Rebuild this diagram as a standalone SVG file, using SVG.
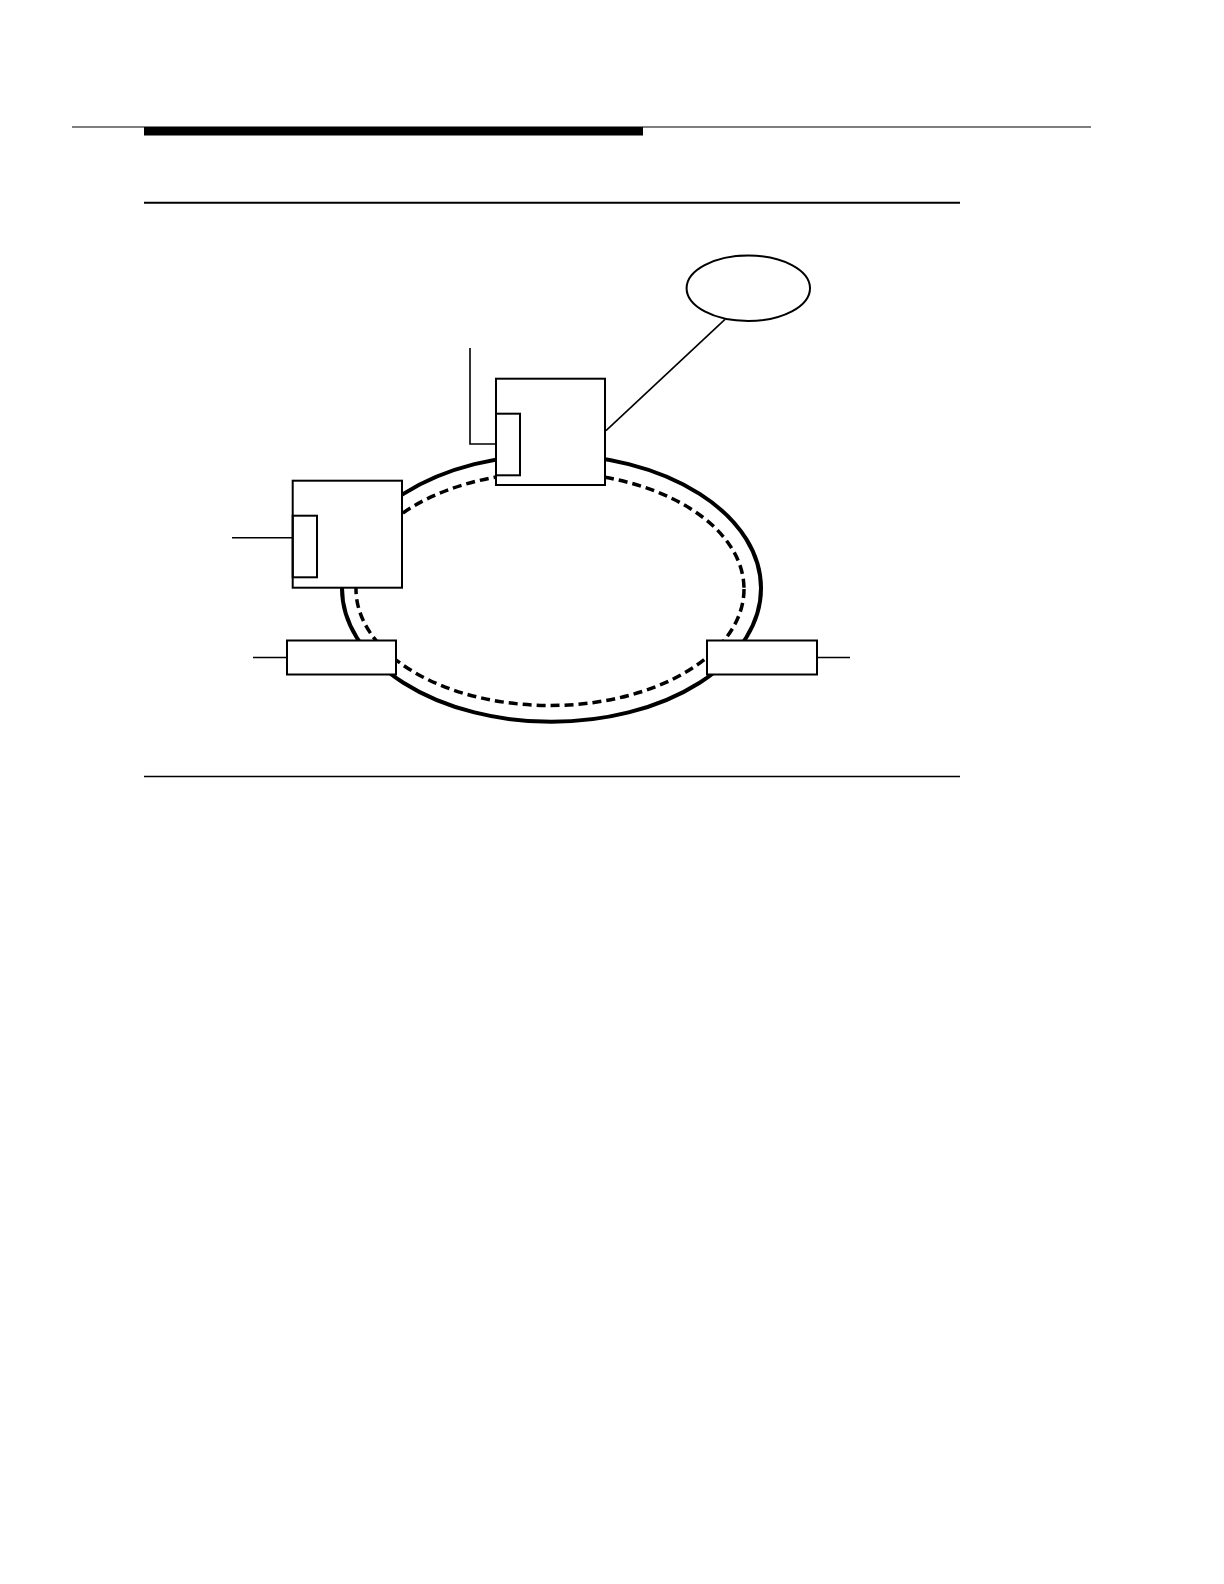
<svg xmlns="http://www.w3.org/2000/svg" width="1224" height="1584" viewBox="0 0 1224 1584">
<style>
.box{fill:#fff;stroke:#000;stroke-width:2}
.inner{fill:none;stroke:#000;stroke-width:2}
.ln{fill:none;stroke:#000;stroke-width:1.6}
.ring{fill:none;stroke:#000;stroke-width:4}
.dash{fill:none;stroke:#000;stroke-width:3.5;stroke-dasharray:9 5}
</style>
<rect width="1224" height="1584" fill="#fff"/>
<g id="header">
<line x1="72" y1="127" x2="1091" y2="127" stroke="#000" stroke-width="1.2"/>
<rect x="144" y="127" width="499" height="8.5" fill="#000"/>
<line x1="144" y1="202.7" x2="960" y2="202.7" stroke="#000" stroke-width="2"/>
<line x1="144" y1="776.5" x2="960" y2="776.5" stroke="#000" stroke-width="1.5"/>
</g>
<g id="ring">
<ellipse class="ring" cx="551.5" cy="588.3" rx="209.5" ry="133.5"/>
<ellipse class="dash" cx="550" cy="589" rx="194" ry="116.5"/>
</g>
<g id="connectors">
<polyline class="ln" points="470,348 470,444 496,444"/>
<line class="ln" x1="232" y1="537.7" x2="293" y2="537.7"/>
<line class="ln" x1="725" y1="319.3" x2="606" y2="430.7"/>
<line class="ln" x1="253" y1="657.5" x2="287" y2="657.5"/>
<line class="ln" x1="817" y1="657.5" x2="850" y2="657.5"/>
</g>
<g id="cloud">
<ellipse fill="#fff" stroke="#000" stroke-width="2" cx="748.3" cy="288.3" rx="61.7" ry="32.7"/>
</g>
<g id="node-top">
<rect class="box" x="496" y="378.7" width="109" height="106.3"/>
<rect class="inner" x="496" y="413.7" width="24" height="61.6"/>
</g>
<g id="node-left">
<rect class="box" x="292.7" y="480.7" width="109.3" height="107"/>
<rect class="inner" x="292.7" y="515.7" width="24.3" height="61.6"/>
</g>
<g id="node-bottom-left">
<rect class="box" x="287" y="640.5" width="109" height="34"/>
</g>
<g id="node-bottom-right">
<rect class="box" x="707" y="640.5" width="110" height="34"/>
</g>
</svg>
